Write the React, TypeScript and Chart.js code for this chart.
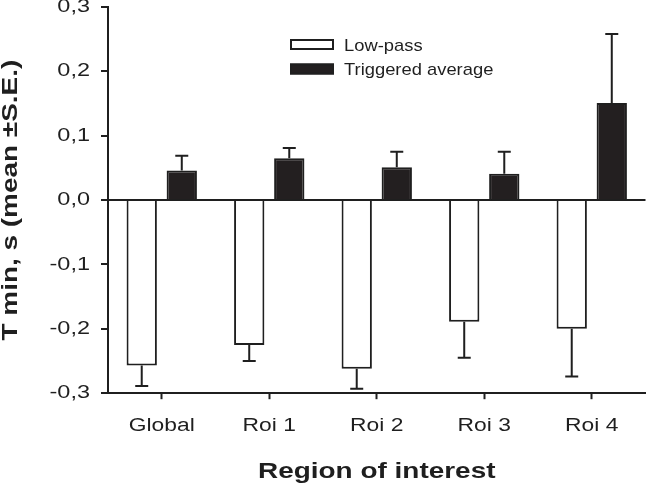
import { useEffect, useRef } from 'react';
import { Chart, registerables } from 'chart.js';

Chart.register(...registerables);

// ---- data ----
const categories = ['Global', 'Roi 1', 'Roi 2', 'Roi 3', 'Roi 4'];
const seriesNames = ['Low-pass', 'Triggered average'];
const lowPass = [-0.257, -0.225, -0.262, -0.189, -0.2];
const lowPassErr = [0.032, 0.025, 0.031, 0.056, 0.074];
const triggered = [0.046, 0.065, 0.051, 0.041, 0.151];
const triggeredErr = [0.023, 0.016, 0.024, 0.034, 0.107];
const yMin = -0.3;
const yMax = 0.3;
const yStep = 0.1;
const yTitle = 'T min, s (mean ±S.E.)';
const xTitle = 'Region of interest';

const INK = '#1f1f1f';
const FILL_DARK = '#231f20';
const FONT = "'Liberation Sans', Arial, Helvetica, sans-serif";
const AXIS_TEXT_STRETCH = 1.27;
const LEGEND_TEXT_STRETCH = 1.08;

// horizontally widened text, to match the wide sans face of the original
const stretchPlugin = {
  id: 'textStretch',
  afterInit(chart: any) {
    const ctx = chart.ctx as any;
    if (ctx.__patched) return;
    ctx.__patched = true;
    const orig = ctx.fillText.bind(ctx);
    ctx.fillText = (text: string, x: number, y: number) => {
      const sx = ctx.__stretch || 1;
      if (sx === 1) return orig(text, x, y);
      ctx.save();
      ctx.translate(x, y);
      ctx.scale(sx, 1);
      orig(text, 0, 0);
      ctx.restore();
    };
  },
  beforeDraw(chart: any) {
    (chart.ctx as any).__stretch = AXIS_TEXT_STRETCH;
  },
};

const errorBarsPlugin = {
  id: 'errorBars',
  afterDatasetsDraw(chart: any) {
    const ctx = chart.ctx;
    const yScale = chart.scales.y;
    chart.data.datasets.forEach((ds: any, di: number) => {
      const meta = chart.getDatasetMeta(di);
      meta.data.forEach((bar: any, i: number) => {
        const v = ds.data[i];
        const e = ds.errors[i];
        const end = v + (v < 0 ? -e : e);
        const y0 = yScale.getPixelForValue(v);
        const y1 = yScale.getPixelForValue(end);
        ctx.save();
        ctx.strokeStyle = INK;
        ctx.lineWidth = 2;
        ctx.beginPath();
        ctx.moveTo(bar.x, y0);
        ctx.lineTo(bar.x, y1);
        ctx.moveTo(bar.x - 6.5, y1);
        ctx.lineTo(bar.x + 6.5, y1);
        ctx.stroke();
        ctx.restore();
      });
    });
  },
};

const legendPlugin = {
  id: 'innerLegend',
  afterDraw(chart: any) {
    const ctx = chart.ctx as any;
    const boxX = 290;
    const boxW = 44;
    const boxH = 11;
    const rows = [39, 63.5];
    const baselines = [50.5, 75];
    ctx.save();
    const prev = ctx.__stretch;
    ctx.__stretch = LEGEND_TEXT_STRETCH;
    chart.data.datasets.forEach((ds: any, i: number) => {
      const top = rows[i];
      ctx.fillStyle = ds.backgroundColor;
      ctx.fillRect(boxX, top, boxW, boxH);
      ctx.strokeStyle = ds.borderColor;
      ctx.lineWidth = 2;
      ctx.strokeRect(boxX + 1, top + 1, boxW - 2, boxH - 2);
      ctx.fillStyle = INK;
      ctx.font = `17px ${FONT}`;
      ctx.textBaseline = 'alphabetic';
      ctx.textAlign = 'left';
      ctx.fillText(ds.label, 344, baselines[i]);
    });
    ctx.__stretch = prev;
    ctx.restore();
  },
};

export default function App() {
  const canvasRef = useRef<HTMLCanvasElement | null>(null);

  useEffect(() => {
    document.body.style.margin = '0';
    const canvas = canvasRef.current;
    if (!canvas) return;
    Chart.defaults.color = INK;
    Chart.defaults.font.family = FONT;

    const chart = new Chart(canvas, {
      type: 'bar',
      data: {
        labels: categories,
        datasets: [
          {
            label: seriesNames[0],
            data: lowPass,
            errors: lowPassErr,
            backgroundColor: '#ffffff',
            borderColor: INK,
            borderWidth: 2,
            borderSkipped: 'start',
          } as any,
          {
            label: seriesNames[1],
            data: triggered,
            errors: triggeredErr,
            backgroundColor: FILL_DARK,
            borderColor: INK,
            borderWidth: 2,
            borderSkipped: 'start',
          } as any,
        ],
      },
      options: {
        animation: false,
        responsive: false,
        maintainAspectRatio: false,
        devicePixelRatio: 1,
        categoryPercentage: 0.745,
        barPercentage: 0.757,
        layout: { padding: { top: 7, right: 0.5, bottom: 0, left: 0 } },
        plugins: {
          legend: { display: false },
          tooltip: { enabled: false },
          title: { display: false },
        },
        scales: {
          x: {
            offset: true,
            grid: {
              display: true,
              drawOnChartArea: false,
              drawTicks: true,
              offset: false,
              tickLength: 6,
              tickWidth: 2,
              tickColor: INK,
              color: INK,
            },
            border: { display: true, color: INK, width: 2 },
            ticks: {
              color: INK,
              font: { size: 18, family: FONT },
              padding: 16,
              maxRotation: 0,
              autoSkip: false,
            },
            title: {
              display: true,
              text: xTitle,
              color: INK,
              font: { size: 22, weight: 'bold', family: FONT, lineHeight: 1 },
              padding: { top: 0, bottom: 8 },
            },
            afterFit(s: any) {
              s.height = 97.8;
              s.paddingLeft = 0;
              s.paddingRight = 0;
            },
          },
          y: {
            min: yMin,
            max: yMax,
            grid: {
              display: true,
              drawOnChartArea: true,
              drawTicks: true,
              tickLength: 7,
              tickWidth: 2,
              tickColor: INK,
              lineWidth: 2,
              color: (c: any) => (c.tick && Math.abs(c.tick.value) < 1e-9 ? INK : 'rgba(0,0,0,0)'),
            },
            border: { display: true, color: INK, width: 2 },
            ticks: {
              stepSize: yStep,
              color: INK,
              font: { size: 18.5, family: FONT },
              padding: 11,
              callback: (v: any) => Number(v).toFixed(1).replace('.', ','),
            },
            title: {
              display: true,
              text: yTitle,
              color: INK,
              font: { size: 22, weight: 'bold', family: FONT, lineHeight: 1 },
              padding: { top: 0, bottom: 0 },
            },
            afterFit(s: any) {
              s.width = 108;
              s.paddingTop = 0;
              s.paddingBottom = 0;
            },
          },
        },
      } as any,
      plugins: [stretchPlugin, errorBarsPlugin, legendPlugin],
    });

    return () => {
      chart.destroy();
    };
  }, []);

  return (
    <div style={{ width: 646, height: 491, background: '#ffffff' }}>
      <canvas ref={canvasRef} width={646} height={491} style={{ display: 'block' }} />
    </div>
  );
}
